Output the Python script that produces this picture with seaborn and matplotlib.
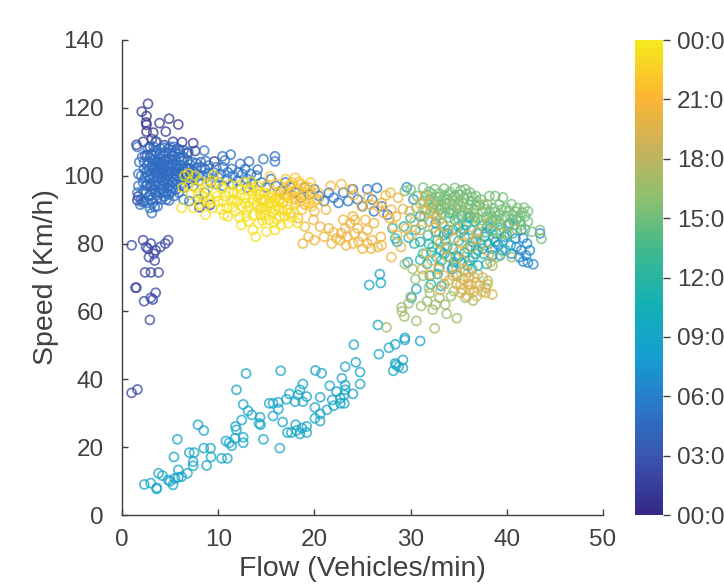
import seaborn as sns
import pandas as pd
import matplotlib.pyplot as plt
from matplotlib.cm import ScalarMappable
from matplotlib.colors import LinearSegmentedColormap, Normalize

sns.set_theme(style="ticks")
plt.rcParams["font.family"] = ["Liberation Sans", "DejaVu Sans"]

TEXT = "#404040"

# (flow, speed), one list per time of day
tail_night = [(2.7,121.2),(2.05,118.9),(2.55,117.6),(2.5,115.7),(2.55,115),(2.55,113),(3.9,115.5),(4.9,116.8),(5.85,115.1),(4.55,113),
    (3.25,112.7),(1.5,109.1),(2.2,110),(6.25,109.9),(7.4,109.6),(5.3,110),(6.8,106.6),(9.6,104.2),(8.05,90.7),(1.7,93.9),(9.15,91.4),
    (3.5,110),(4.4,109),(2.9,108.5),(6,107.5),(1.6,92.8),(3.1,110.8),(7.6,107.3),(2.6,106),(4.1,104),(3,97),(5.2,106),(3.6,101),(4.7,100),(2.3,92.5)]
low_night = [(1,79.5),(2.2,81),(2.5,79),(3,80),(3.5,78),(4,79),(4.5,80),(4.8,81),(2.8,76),(3.4,75),(2.4,71.5),(3,71.5),(3.8,71.5),
    (1.4,67),(1.5,67),(3.5,65.5),(3,64),(2.3,63),(3.2,63.5),(2.9,57.5),(1,36),(1.6,37),(2.7,78.5),(3.3,77)]
core_early = [(1.6,108.5),(1.8,104),(2,100),(1.7,97),(1.6,95),(2,93),(1.9,91.5),(2.4,106),(2.3,102),(2.2,98),(2.5,95),(2.6,92),(2.9,90.5),(3.1,89),
    (3.2,92),(2.7,108),(2.8,104),(2.7,100),(2.9,97),(3,94.5),(3.2,106),(3.1,102.5),(3.3,99.5),(3.4,96),(3.6,93),(3.7,91),(3.3,108.5),(3.6,110),
    (3.5,104),(3.7,101),(3.6,98),(3.9,95),(4.1,93),(4,108),(4,105),(4.1,102.5),(4,99.5),(4.2,97),(4.3,95),(4.6,93),(4.5,107),(4.4,104.5),
    (4.6,101.5),(4.5,99),(4.7,96.5),(4.9,94.5),(5,108.5),(4.9,105),(5.1,103),(4.9,100.5),(5.2,98),(5.3,96),(5.4,94),(5.5,107),(5.6,104.5),
    (5.5,102),(5.7,100),(5.6,97.5),(5.9,95),(6,105.5),(6.1,103),(6.2,100.5),(6.3,98),(6.6,102.5),(6.8,104.5),(6.7,100),(7,98),(7.1,102),
    (7.3,104),(7.6,100.5),(7.8,102.5),(8,98.5),(8.2,104),(8.4,100),(8.6,102),(2.1,105.5),(2.6,103),(3.0,100.5),(3.4,102.5),(3.8,104),(4.2,100.5),
    (4.7,103),(5.2,101.3),(5.9,102.3),(3.2,97.5),(3.7,99.5),(4.4,97.8),(5,97),(2.4,99.5),(3,106.3),(3.6,106.7),(4.3,106),(4.8,108),(5.4,105.7),
    (2.8,102),(3.3,104.6),(4,103.3),(4.6,104.8),(5.3,103.4),(2.2,95.6),(2.8,94),(3.5,95),(4.4,93.9),(5.6,99),(6.4,105.5),(7.2,99.5),(1.7,100.5),
    (2.1,92.2),(3.4,100.8),(3.9,97.4),(4.3,102),(4.9,98.8),(5.5,100.6),(6,99.4),(6.5,96.6),(7.4,97),(6.9,107),(5.8,108),
    (2.5,101),(2.9,99),(3.2,103.4),(3.5,97.2),(3.8,102.3),(4.1,100.9),(4.4,103.2),(4.7,98.2),(5,102.2),(5.3,99.4),(5.6,102.8),(5.9,100.8),(6.2,104.3),
    (6.5,101.3),(6.8,98.8),(7.1,103.3),(7.4,101.3),(7.7,103.7),(2.6,97.3),(3.1,95.6),(3.6,94.2),(4.1,96),(4.6,95),(5.1,95.4),(5.6,95.9),(6.1,97.2),
    (2.9,105.3),(3.4,107.3),(3.9,106.2),(4.4,108.3),(4.9,106.7),(5.4,108.5),(5.9,106.5),(6.4,107.5),(7,100.8),(7.9,100),(8.3,102.5),(9,100.8),
    (2.3,104),(2.5,97),(3.7,103),(4.2,98.6),(4.8,101.2),(5.2,104.6),(5.7,103.2),(6.3,102.2),(6.8,102.1),(7.5,98.8),(8.7,104.3),(3,92.8),(3.4,90.8),(4.9,92.7)]
tail_early = [(8.55,107.4),(10.45,105.7),(11.3,106.2),(10.7,104.5),(13.2,104.2),(14.7,104.9),(15.9,105.7),(15.9,104.2),(9,103),(9.5,101),(10,99.5),(10.5,102.5),
    (11,101),(11.5,100),(12,98.5),(12.5,100.5),(13,99),(13.5,97.5),(14,100),(14.5,98),(15,96.5),(15.5,99),(16,97),(16.5,95.5),(17,98),
    (17.5,96.5),(18,95),(18.6,93.5),(19,96.5),(19.5,94.5),(20,96),(20.5,94),(21,92.5),(21.5,95),(22,93.5),(22.5,92),(23,95),(23.5,92.5),
    (24,96),(24.5,93),(25,91),(25.5,96),(26,93),(26.5,96.4),(26.2,89.5),(27,91),(27.6,88.5),(12.3,103.5),(8.9,99.8),(9.8,97.5),(7.9,93),(8.6,95),(7,92.5),(6.4,93),
    (9.8,102.5),(10.3,100.5),(10.9,99),(11.4,102),(12.1,101),(12.8,102),(13.4,100.5),(14.1,101.8),(9.2,98),(10.5,97),(11.5,97.5),(13,96.5)]
right_early = [(41.7,74.7),(42.2,74.4),(42.75,73.9),(42.4,78),(41.7,81.6),(39.1,79.6),(43.45,83),(29.6,96.6),(40.5,77),(41,79),(39.8,82),(38.5,76.5),(37.5,78.5),
    (36.5,80.5),(35,76),(33.8,83),(32.6,86),(31,88),(30.3,93),(41.5,84),(40.3,86),(38,85),(36.2,88),(34.3,72.5),(41.3,76),(42,76.5),(41.5,78),(42.1,80),(40.9,81.5),(39.5,78),(38.8,80.5),(37.7,82),(35.5,84)]
branch_morning = [(2.32,9),(2.98,9.4),(3.6,7.7),(3.62,8),(3.8,12.3),(4.2,11.6),(4.8,10.3),(5,9.9),(5.3,8.9),(5.5,10.8),(5.85,11.1),(6.2,11.3),(5.85,13.3),(6.8,12.3),
    (5.4,17.1),(5.75,22.3),(7,18.4),(7.5,18.4),(7.4,15.7),(7.4,14.5),(7.9,26.6),(8.5,24.9),(8.5,19.7),(9.2,19.7),(9.25,17.1),(8.8,14.6),(10.35,16.7),(10.95,16.7),
    (10.8,21.8),(11.15,21.3),(11.4,20.4),(11.75,22.6),(11.8,26.1),(11.9,25.1),(12.45,28),(12.6,22.9),(12.6,21.3),(11.9,36.9),(12.9,41.7),(12.6,32.6),(13.1,30.7),
    (13.5,29.5),(14.35,28.8),(14.25,27),(14.4,26.6),(14.7,22.3),(15.3,32.9),(15.7,32.9),(16.25,33.2),(16.25,31.2),(15.7,29.2),(16.7,27.4),(16.5,42.5),(16.4,19.7),
    (17.2,24.3),(17.6,24.3),(18.05,26.6),(18.15,24.9),(18.5,23.9),(18.7,25.6),(19.2,26.1),(19.2,24.3),(17.1,34.1),(17.4,35.7),(18,33.4),(18.3,35.4),(18.5,36.9),
    (18.8,38.6),(18.8,33.4),(19.2,34.9),(20.05,31.7),(20.6,34.7),(20.05,28.5),(20.6,29.8),(20.6,27.7),(21.3,31),(20.1,42.6),(20.75,41.8),(21.6,38.1),(22,32.2),
    (21.85,33.9),(22.85,40.3),(22.3,36.4),(23.2,43.7),(24.3,45),(24.75,42.1),(24.75,38.6),(24,35.7),(23.2,38.3),(23.2,36.9),(23.1,35.4),(23.1,32.9),(22.7,34.4),
    (22.7,32.9),(24.1,50.2),(26.7,47.4),(27.75,49.3),(28.4,50.3),(29.4,51.6),(28.2,42.5),(28.4,44.7),(29.2,45.7),(29.2,43.3),(28.75,43.7),(28.5,44.2),(31,51.3),
    (29.4,52.2),(26.6,56),(25.7,67.8),(26.9,68.4),(26.8,71),(30.6,66.6),(30.1,64),(32.8,71),(33.2,67.5),(29.7,74.5),(28.6,80.5),(33.5,77),(34.5,74.5),(36.5,76),(38.5,78.5),(37,73.5),(39.3,76.5),(40.4,79.5)]
teal_noon = [(30,87.5),(30.5,84),(31,80.5),(31.3,77),(31.7,74),(32,70.5),(32.1,68),(31.8,82.5),(32.3,79),(32.7,76),(33,73),(33.3,86),(33.5,82.5),(33.8,79),(34.1,76),
    (34.4,73),(34.8,70.5),(35,85),(35.3,88),(35.6,82),(35.9,78.5),(36.1,75),(36.4,72.5),(36.7,86.5),(37,83),(37.3,80),(37.6,77),(37.9,74),(38.3,84.5),(38.6,81.5),
    (38.9,87),(39.3,84),(39.6,81),(39.9,78),(40.2,85.5),(40.6,83),(41,87),(34.6,87),(33.9,84),(35.2,83.3),(36.3,84),(37.4,85.2),(32.6,83.5),(31.2,85.6),(34,89),(36,87.5),
    (33,90),(29.3,85),(28.1,84.5),(28.4,81.5),(30.4,80),(29.8,81.7),(32.2,77.5),(33.1,78),(34.4,78.5),(35,80.8),(35.6,77.3),(36.2,79.2),(36.8,81),(34.7,76.3),(35.3,74.2),(33.6,81),(34.4,84),(35.8,85.5),(37.8,83.3),
    (32.8,81),(31.9,79.8),(37,78),(38.1,80),(38.9,83),(40,82.5),(36.8,77),(33.2,75),(31,75.2),(35.9,73.5)]
green_afternoon = [(29.4,95.5),(30,96),(30.7,94),(31.3,96.5),(31.9,95.3),(32.5,96),(33,94.8),(33.5,96.2),(34.1,95.2),(34.6,96.4),(35.2,95.7),(35.7,96),(36.2,95),(31.4,92.5),
    (32,93),(32.6,92.3),(33.2,92.8),(33.8,93),(34.4,93.4),(35,92.5),(35.6,93.2),(36.3,92.5),(36.8,94),(31.7,90),(32.3,90.6),(33,90),(33.6,90.6),(34.2,89.8),(34.8,90.4),
    (35.4,89.8),(36,90.4),(36.6,90),(37.2,91.3),(37.3,93),(38.2,94),(38.8,94),(39.6,93.6),(38,91.5),(38.6,90.5),(39.2,91.5),(39.9,90.5),(40.5,91.6),(41.1,90.5),(41.8,90.6),
    (42.2,89.5),(37.9,88),(38.5,87.8),(39.2,88.4),(39.9,88),(40.6,88.4),(41.2,87.8),(41.9,88),(42.2,86.5),(41.5,85.5),(40.8,85.6),(40.1,85.5),(39.3,85.8),(43.45,84),(43.6,81.4),
    (42.6,83.5),(34,87.7),(35,87),(36,86.5),(32.7,88),(31.4,88),(30.6,90.5),(37,87.5),(41.9,84.2),
    (31.7,94.2),(32.2,94.8),(32.9,93.7),(33.5,94.2),(34,94.4),(34.6,94.1),(35.1,94.4),(35.8,94.6),(36.4,93.8),(36.9,92.4),(31.9,91.5),(32.5,91.6),(33.1,91.5),(33.7,91.7),(34.3,91.6),
    (34.9,91.4),(35.5,91.7),(36.1,91.5),(36.8,91.2),(32.4,89),(33.3,88.7),(34.4,88.7),(35.2,88.5),(36,88.8),(36.6,87.9),(37.5,89.3),(38.2,89.4),(38.8,89.3),(39.5,90),(40.2,89.6),(40.9,89.4),
    (41.6,89.2),(37.8,90),(40.6,87),(41.4,86.6),(39.5,87.1),(38.5,86.4),(37.4,86.9)]
olive_afternoon = [(29.07,61.2),(29.35,58.5),(29.1,60),(27.5,55.3),(30.6,57.2),(32.5,55),(34.8,58),(33.75,59.3),(29.8,62.4),(31.1,61.6),(30,64.3),(31.7,63),(32,65.4),(32.6,62),
    (33,64),(33.6,62),(34.2,64.5),(32.3,60.5),(30.5,69.5),(31.3,70.5),(31.9,67),(33.5,68),(37.2,86),(36.5,89),(38.2,86.3),(39.4,83),(40,83),(39,76),(40.5,76),(35.2,91),
    (37,71),(38.5,73.5),(37.8,67),(38,69),(34.5,66),(35.7,64),(36.5,63.2),(30.2,72.5),(29.4,74),(33.2,90.8),(34.5,92.6),(37.6,91.5),(38.5,83.5),(39.1,85.5),(41,84.3)]
tan_evening = [(31.3,90),(32,89),(32.6,88),(32.4,84.7),(33,80),(31.6,77),(32.2,75),(31.2,72.5),(32.9,72.5),(33.5,70.5),(34.5,81.5),(35.1,78),(35.5,75),(36,70),(34.8,68),
    (35.4,66.5),(36,68),(36.6,66),(37.2,67.5),(37.8,65.5),(38,68),(34.9,71),(35.7,72),(36.6,70),(35.9,64.5),(36.9,64.5),(37.5,70),(38.5,65),(36.3,67.8),(35.2,65.5),
    (33.5,85),(34.7,84.5),(36,82.5),(35.3,80),(37,81.5),(33.8,76),(31,84),(30.4,86.5),(29.9,89.5),(31.5,94),(33,87),(29.2,90.2),(32.1,70.8),(33.1,66.3),(34,69.2),(38.3,74.5),
    (35.4,69.5),(36.1,66.3),(36.8,68.5),(37.4,65.8),(34.4,70.5),(35.2,68),(36,71.5),(33,83),(31.9,86.5),(31,91.8),(32,92),(33.6,78.6),(34.7,73.3),(36.4,78.8),(37.9,78),(36.9,83.3)]
orange_evening = [(17.5,89),(18.3,87.5),(19,85),(19.4,82),(19.9,87),(20.6,85),(21,82),(21.5,84.5),(22.3,81.5),(22.8,83),(23.3,79.5),(23.7,86),(24.2,83),(24.6,80.5),(25,78.5),(25.3,87),
    (25.5,84),(26,81),(26.6,79),(26.9,82),(23,87),(24,88),(24.9,91),(25.8,91.5),(26.6,91),(27.2,89),(27.8,87.5),(28.2,85),(28.6,82.5),(29,79),(30.1,82.5),(29.5,84.5),
    (28,76),(27,79.5),(26.2,86),(21.7,97),(22.8,97.5),(23.8,96),(25.6,93.7),(24.1,94.3),(20,89.5),(19,91.5),(18,93),(17,94),(16.4,93),(18.8,80),(20,81),(21.8,80),
    (27,92),(27.4,94.2),(28.7,93.5),(27.9,95),(22.7,81),(23.4,82),(24,80),(24.5,84.5),(25,82),(25.5,80),(23.2,84.5),(22,83.3),(25.9,78.5),(24.2,87),(19.7,95),(20.4,93),(21.2,90),(28,90),(28.5,88)]
gold_night = [(13.6,96.5),(14.3,94.5),(15,97),(15.6,95),(16.2,97.5),(16.8,95.8),(17.4,97.2),(18,95.5),(18.6,97.5),(19.2,95),(15.3,92),(16,93.5),(16.7,92),(17.3,93.5),(18,92),
    (18.7,90),(19.4,92),(20,92.5),(20.4,95),(17.2,90),(15.9,90),(14.8,93),(17,99),(18,99.4),(19,97),(15.4,99.8),(14.4,90.5),(16.4,88),
    (16.9,94.6),(17.6,95),(18.3,96.2),(18.9,94.2),(19.5,96.5),(17.9,93.6),(18.5,92.5),(19.1,93.2),(19.7,91),(16.3,95),(17.7,98),(18.4,98.2),(19.6,98)]
yellow_night = [(6.5,100),(6.9,97),(7.2,94.5),(7.7,96.5),(8.1,98.5),(8.4,94),(8.9,96),(9.3,98.5),(9.7,95),(10,92.5),(10.4,96.5),(10.8,94),(11.2,97.5),(11.6,95),(12,92.5),(12.4,96),
    (12.8,93.5),(13.2,91),(13.6,94.5),(14,91.5),(14.4,88.5),(14.8,95),(15,90),(15.3,87),(15.7,94),(16.1,91),(16.5,85.5),(16.9,88),(17.3,86),(6.2,90.5),(6.3,96.5),(8.7,88.5),
    (9.4,90.5),(10.6,88.5),(11.8,89.5),(12.4,85.5),(12.9,88),(13.6,84),(14.2,86),(15,83.5),(15.6,89),(17.9,89),(18.3,86),(7.4,90.5),(8,91.5),(9,93),(10.9,90.5),(11.4,92.5),
    (12.7,98),(13.4,98.2),(14.1,97),(7.6,100),(6.9,100.6),(10.1,98),(11,88),(13.9,82),(15.9,84),(14.6,92.7),(15.6,92),(13.2,95.7),(14,95.5),(16.4,90.3),(12,97),(9.5,100.2),
    (9.9,94),(10.5,92.5),(11.1,95.3),(11.7,93),(12.3,94.2),(12.9,91.8),(13.5,92.8),(14.1,93.5),(14.7,90.7),(15.3,93.7),(15.9,92.3),(16.5,93.2),(13,89.8),(13.7,88.5),(14.3,89.9),(14.9,88.3),
    (15.5,90.6),(16.1,87.2),(16.7,89.8),(17.2,91.6),(10.3,90),(9.2,92),(8.5,92.5),(11.5,90.7),(12.2,87.7),(8.8,97.5),(7.9,94.8),(13.1,86.5),(14.6,86.8),(15.8,86.1),(12.5,90.8),(17.6,87.8)]

groups = [tail_night, low_night, core_early, tail_early, right_early, branch_morning, teal_noon,
    green_afternoon, olive_afternoon, tan_evening, orange_evening, gold_night, yellow_night]
hours = [1, 2.2, 4.6, 5.2, 6.6, 8.8, 11.5, 15, 16.8, 19.3, 20.6, 22, 23.4]

colorbar_ticks = [0, 3, 6, 9, 12, 15, 18, 21, 24]
colorbar_labels = ["00:00", "03:00", "06:00", "09:00", "12:00", "15:00", "18:00", "21:00", "00:00"]
cmap_colors = ["#352a87", "#3a53ae", "#2a76c8", "#149fd0", "#14b0b4", "#3eb98e", "#8cc070", "#c9b25a", "#fdb632", "#f5e81c"]

rows = []
for group, hour in zip(groups, hours):
    for flow, speed in group:
        rows.append((flow, speed, hour))
df = pd.DataFrame(rows, columns=["flow", "speed", "hour"])

cmap = LinearSegmentedColormap.from_list("day", cmap_colors, N=64)
norm = Normalize(0, 24)

fig = plt.figure(figsize=(7.24, 5.88), dpi=100)
ax = fig.add_axes([122 / 724, 1 - 515 / 588, 481 / 724, 475 / 588])
g = sns.scatterplot(data=df, x="flow", y="speed", hue="hour", palette=cmap, hue_norm=norm,
                    s=42, linewidth=1.25, legend=False, ax=ax)
# seaborn fills the points, the picture has open rings
points = ax.collections[0]
points.set_edgecolors(points.get_facecolors())
points.set_facecolors("none")
points.set_alpha(0.75)

ax.set_xlim(0, 50)
ax.set_ylim(0, 140)
ax.set_xticks(range(0, 60, 10))
ax.set_yticks(range(0, 160, 20))
ax.set_xlabel("Flow (Vehicles/min)", fontsize=20.5, color=TEXT, labelpad=4)
ax.set_ylabel("Speed (Km/h)", fontsize=20.5, color=TEXT, labelpad=3)
ax.tick_params(direction="in", length=4, width=1, labelsize=17.5, colors=TEXT)
ax.tick_params(axis="x", pad=10)
ax.tick_params(axis="y", pad=13)
sns.despine(ax=ax)
for side in ["left", "bottom"]:
    ax.spines[side].set_color(TEXT)
    ax.spines[side].set_linewidth(1)

cax = fig.add_axes([635 / 724, 1 - 515 / 588, 28 / 724, 475 / 588])
cbar = fig.colorbar(ScalarMappable(norm=norm, cmap=cmap), cax=cax, ticks=colorbar_ticks)
cbar.ax.set_yticklabels(colorbar_labels)
cbar.ax.tick_params(length=5, width=1, labelsize=17.5, colors=TEXT, pad=5)
cbar.outline.set_visible(False)

fig.savefig("out.png", dpi=100)
